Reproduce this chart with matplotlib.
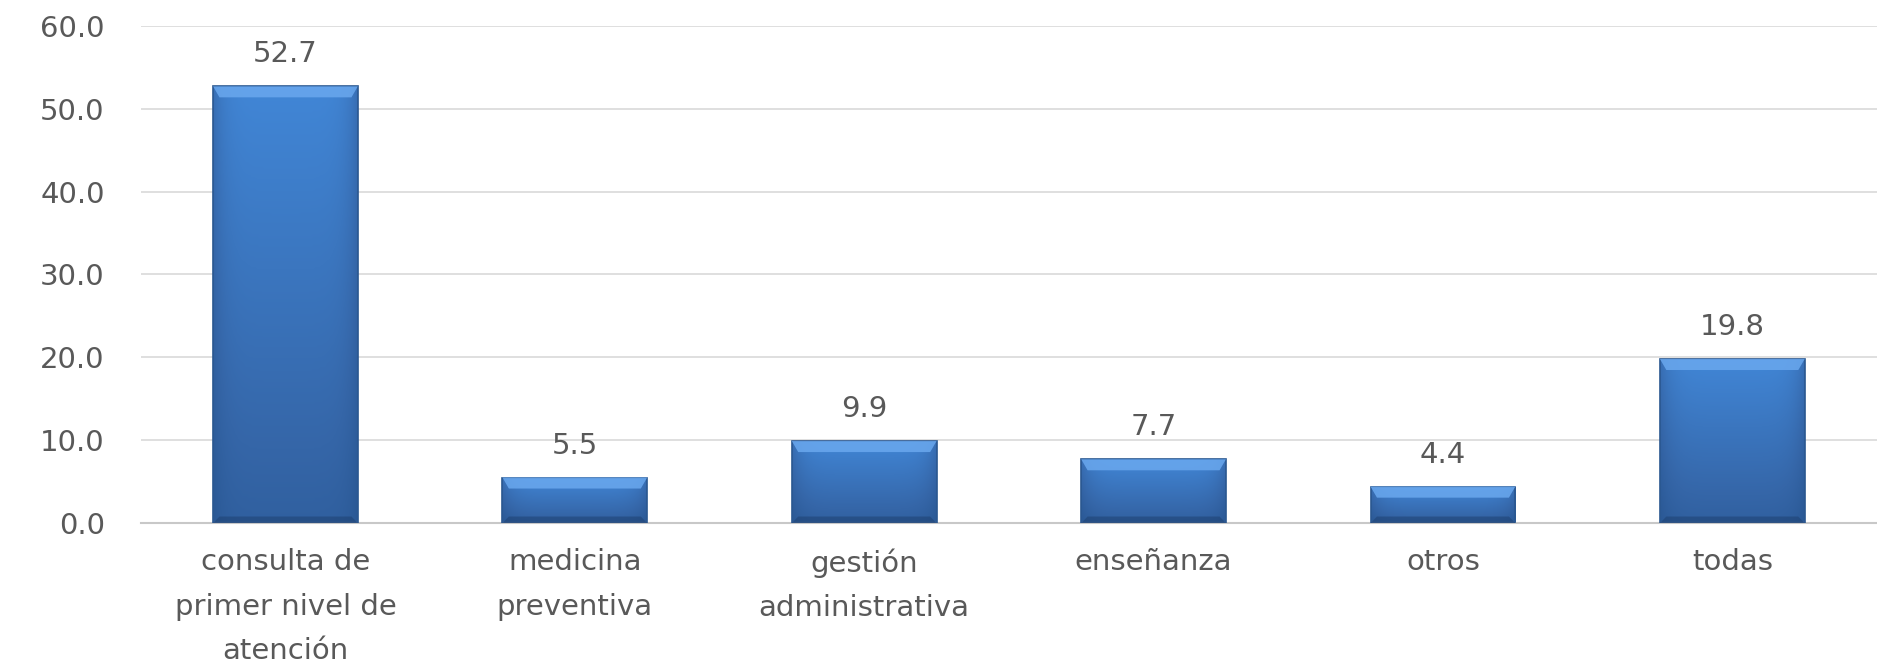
import numpy as np
import matplotlib
matplotlib.use("Agg")
import matplotlib.pyplot as plt
from matplotlib.patches import Polygon
from matplotlib.colors import LinearSegmentedColormap

categories = ["consulta de\nprimer nivel de\natención", "medicina\npreventiva",
              "gestión\nadministrativa", "enseñanza", "otros", "todas"]
values = [52.7, 5.5, 9.9, 7.7, 4.4, 19.8]
yticks = [0, 10, 20, 30, 40, 50, 60]

grey = "#595959"
plt.rcParams["font.family"] = ["DejaVu Sans"]
fs = 21

fig = plt.figure(figsize=(18.77, 6.63), dpi=100)
ax = fig.add_axes([0.075, 0.211, 0.925, 0.75])

x = np.arange(len(categories))
bars = ax.bar(x, values, width=0.5, color="none", edgecolor="#2a5790", linewidth=1.2, zorder=3)

ax.set_xlim(-0.5, len(categories) - 0.5)
ax.set_ylim(0, 60)

# gradient fill: lighter at top, darker toward bottom and at the sides
ny, nx = 100, 60
vert = np.linspace(1.0, 0.0, ny)[:, None]
horiz = 1 - 0.35 * np.abs(np.linspace(-1, 1, nx))[None, :] ** 6
grad = vert * 0.6 + 0.4
grad = grad * horiz
cmap = LinearSegmentedColormap.from_list("blu", ["#1f4a80", "#3566a8", "#4186d6"])

px_to_data = 60 / (0.75 * 663)
bev = 11 * px_to_data
for b in bars:
    x0, w, h = b.get_x(), b.get_width(), b.get_height()
    im = ax.imshow(grad, cmap=cmap, vmin=0, vmax=1, extent=[x0, x0 + w, 0, h],
                   aspect="auto", zorder=2, interpolation="bilinear")
    im.set_clip_path(b)
    bw = 0.022
    top = Polygon([[x0, h], [x0 + w, h], [x0 + w - bw, h - bev], [x0 + bw, h - bev]],
                  closed=True, facecolor="#6aa8ee", edgecolor="none", alpha=0.85, zorder=3)
    ax.add_patch(top)
    bot = Polygon([[x0, 0], [x0 + w, 0], [x0 + w - bw, bev * 0.6], [x0 + bw, bev * 0.6]],
                  closed=True, facecolor="#1d3f6e", edgecolor="none", alpha=0.5, zorder=3)
    ax.add_patch(bot)
    ax.annotate(f"{h:.1f}", (x0 + w / 2, h), xytext=(0, 23), textcoords="offset points",
                ha="center", va="center", fontsize=fs, color=grey)

ax.set_yticks(yticks)
ax.set_yticklabels([f"{v:.1f}" for v in yticks], fontsize=fs, color=grey)
ax.set_xticks(x)
ax.set_xticklabels(categories, fontsize=fs, color=grey, linespacing=1.75)
ax.tick_params(axis="both", length=0)
ax.tick_params(axis="y", pad=26)
ax.tick_params(axis="x", pad=18)

ax.grid(axis="y", color="#d9d9d9", linewidth=1.2, zorder=0)
for s in ["top", "right", "left"]:
    ax.spines[s].set_visible(False)
ax.spines["bottom"].set_color("#c8c8c8")
ax.spines["bottom"].set_linewidth(1.5)

fig.savefig("out.png", dpi=100)
